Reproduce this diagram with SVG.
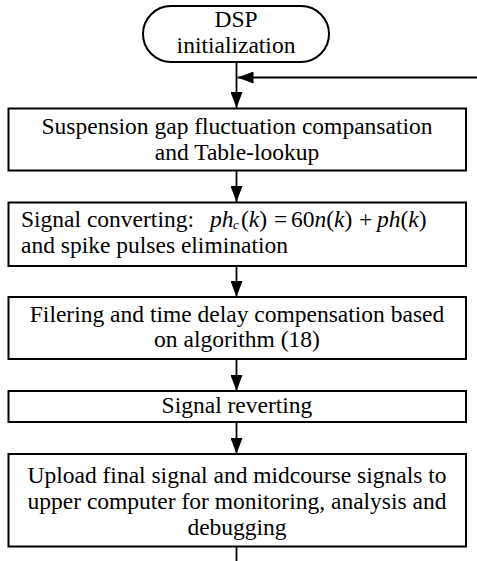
<svg xmlns="http://www.w3.org/2000/svg" width="477" height="561" viewBox="0 0 477 561">
<style>
.box{fill:#fff;stroke:#000;stroke-width:2}
.t{font-family:"Liberation Serif","Times New Roman",serif;font-size:23.5px;fill:#000}
.c{text-anchor:middle}
.i{font-style:italic}
.ln{stroke:#000;stroke-width:1.8;fill:none}
</style>
<defs>
<marker id="ah" markerUnits="userSpaceOnUse" markerWidth="18" markerHeight="12" refX="16" refY="6" orient="auto">
<path d="M0,0 L16,6 L0,12 Z" fill="#000"/>
</marker>
</defs>
<rect width="477" height="561" fill="#fff"/>
<g id="connectors">
<line class="ln" x1="236.5" y1="62" x2="236.5" y2="108" marker-end="url(#ah)"/>
<line class="ln" x1="477" y1="77.5" x2="237.5" y2="77.5" marker-end="url(#ah)"/>
<line class="ln" x1="236.5" y1="171" x2="236.5" y2="202" marker-end="url(#ah)"/>
<line class="ln" x1="236.5" y1="266" x2="236.5" y2="297" marker-end="url(#ah)"/>
<line class="ln" x1="236.5" y1="359" x2="236.5" y2="391" marker-end="url(#ah)"/>
<line class="ln" x1="236.5" y1="422" x2="236.5" y2="454" marker-end="url(#ah)"/>
<line class="ln" x1="236.5" y1="547" x2="236.5" y2="561"/>
</g>
<g id="start">
<rect class="box" x="143" y="6" width="186" height="56" rx="28" ry="28" stroke-width="1.2"/>
<text class="t c" x="236" y="27">DSP</text>
<text class="t c" x="236" y="53">initialization</text>
</g>
<g id="n1">
<rect class="box" x="8.5" y="108.5" width="457.5" height="62"/>
<text class="t c" x="237" y="134">Suspension gap fluctuation compansation</text>
<text class="t c" x="237" y="160">and Table-lookup</text>
</g>
<g id="n2">
<rect class="box" x="8.5" y="202.5" width="457.5" height="63.5"/>
<text class="t" x="21" y="227">Signal converting:<tspan class="i" x="210">ph</tspan><tspan class="i" font-size="13" x="233" y="229">c</tspan><tspan x="241" y="227">(</tspan><tspan class="i">k</tspan>)<tspan x="274">=</tspan><tspan x="291">60</tspan><tspan class="i">n</tspan>(<tspan class="i">k</tspan>)<tspan x="359">+</tspan><tspan class="i" x="377">ph</tspan>(<tspan class="i">k</tspan>)</text>
<text class="t" x="21" y="253">and spike pulses elimination</text>
</g>
<g id="n3">
<rect class="box" x="8.5" y="297" width="457.5" height="62"/>
<text class="t c" x="237" y="322">Filering and time delay compensation based</text>
<text class="t c" x="237" y="347">on algorithm (18)</text>
</g>
<g id="n4">
<rect class="box" x="8.5" y="391" width="457.5" height="31"/>
<text class="t c" x="237" y="413">Signal reverting</text>
</g>
<g id="n5">
<rect class="box" x="8.5" y="454" width="457.5" height="92.5"/>
<text class="t c" x="237" y="483">Upload final signal and midcourse signals to</text>
<text class="t c" x="237" y="509">upper computer for monitoring, analysis and</text>
<text class="t c" x="237" y="535">debugging</text>
</g>
</svg>
